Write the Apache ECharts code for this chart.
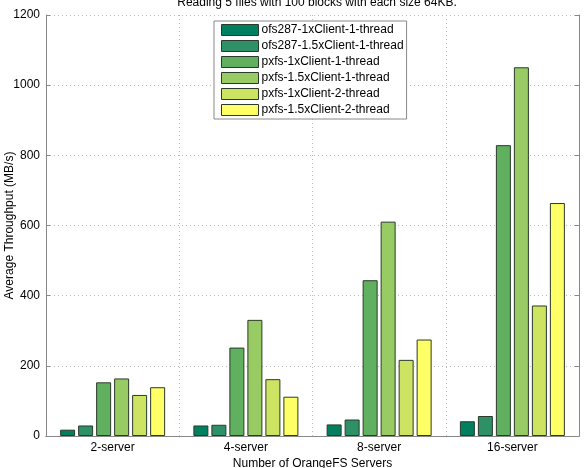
<!DOCTYPE html>
<html>
<head>
<meta charset="utf-8">
<script src="https://cdn.jsdelivr.net/npm/echarts@6/dist/echarts.min.js"></script>
<style>
html,body{margin:0;padding:0;background:#fff;}
#chart{width:588px;height:468px;}
</style>
</head>
<body>
<div id="chart"></div>
<script>
// categories and series
var categories = ['2-server', '4-server', '8-server', '16-server'];
var seriesNames = [
    'ofs287-1xClient-1-thread',
    'ofs287-1.5xClient-1-thread',
    'pxfs-1xClient-1-thread',
    'pxfs-1.5xClient-1-thread',
    'pxfs-1xClient-2-thread',
    'pxfs-1.5xClient-2-thread'
];
var ofs1x = [18, 30, 33, 42];
var ofs15x = [30, 32, 47, 57];
var pxfs1x = [153, 252, 444, 829];
var pxfs15x = [164, 331, 611, 1051];
var pxfs1x2t = [117, 162, 217, 372];
var pxfs15x2t = [139, 112, 275, 664];
var yTicks = [0, 200, 400, 600, 800, 1000, 1200];

var colors = ['#00805e', '#2e9066', '#60b060', '#98cb64', '#cde362', '#ffff66'];
var allData = [ofs1x, ofs15x, pxfs1x, pxfs15x, pxfs1x2t, pxfs15x2t];

var chart = echarts.init(document.getElementById('chart'));

var series = [];
for (var i = 0; i < seriesNames.length; i++) {
    series.push({
        name: seriesNames[i],
        type: 'bar',
        data: allData[i],
        barWidth: 15,
        barGap: '20%',
        itemStyle: {color: colors[i], borderColor: '#2b3a2b', borderWidth: 1}
    });
}

var option = {
    animation: false,
    textStyle: {fontFamily: 'Liberation Sans, Arial, sans-serif'},
    title: {
        text: 'Reading 5 files with 100 blocks with each size 64KB.',
        left: 312, top: -8, textAlign: 'center',
        textStyle: {fontSize: 12, fontWeight: 'normal', color: '#000'}
    },
    color: colors,
    legend: {
        data: seriesNames,
        orient: 'vertical',
        left: 214, top: 21,
        icon: 'rect',
        itemWidth: 37, itemHeight: 11,
        itemGap: 4,
        padding: [3, 3, 3, 7],
        backgroundColor: '#fff',
        borderColor: '#888', borderWidth: 1,
        textStyle: {fontSize: 12, color: '#000', padding: [0, 0, 0, -2]},
        itemStyle: {borderColor: '#2b3a2b', borderWidth: 1}
    },
    grid: {left: 46, right: 9, top: 15, bottom: 32, outerBoundsMode: 'none'},
    xAxis: [{
        type: 'category',
        data: categories,
        name: 'Number of OrangeFS Servers',
        nameLocation: 'middle', nameGap: 22, nameMoveOverlap: false,
        nameTextStyle: {fontSize: 12, color: '#000'},
        axisLine: {lineStyle: {color: '#888'}},
        axisTick: {show: false},
        axisLabel: {fontSize: 12, color: '#000', margin: 6},
        splitLine: {show: true, interval: 0, lineStyle: {color: '#bbb', type: [1, 3]}}
    }, {
        type: 'category', data: categories, position: 'top',
        axisLine: {show: true, lineStyle: {color: '#888'}},
        axisTick: {show: false}, axisLabel: {show: false}, splitLine: {show: false}
    }],
    yAxis: [{
        type: 'value',
        min: yTicks[0], max: yTicks[yTicks.length - 1], interval: 200,
        name: 'Average Throughput (MB/s)',
        nameLocation: 'middle', nameGap: 30, nameMoveOverlap: false,
        nameTextStyle: {fontSize: 12, color: '#000'},
        axisLine: {show: true, lineStyle: {color: '#888'}},
        axisTick: {show: true, inside: true, length: 4, lineStyle: {color: '#888'}},
        axisLabel: {fontSize: 12, color: '#000', margin: 6, formatter: function(v){ return String(v); }},
        splitLine: {show: true, lineStyle: {color: '#bbb', type: [1, 3]}}
    }, {
        type: 'value', min: 0, max: 1200, interval: 200, position: 'right',
        axisLine: {show: true, lineStyle: {color: '#888'}},
        axisTick: {show: true, inside: true, length: 4, lineStyle: {color: '#888'}},
        axisLabel: {show: false}, splitLine: {show: false}
    }],
    series: series
};
chart.setOption(option);
</script>
</body>
</html>
